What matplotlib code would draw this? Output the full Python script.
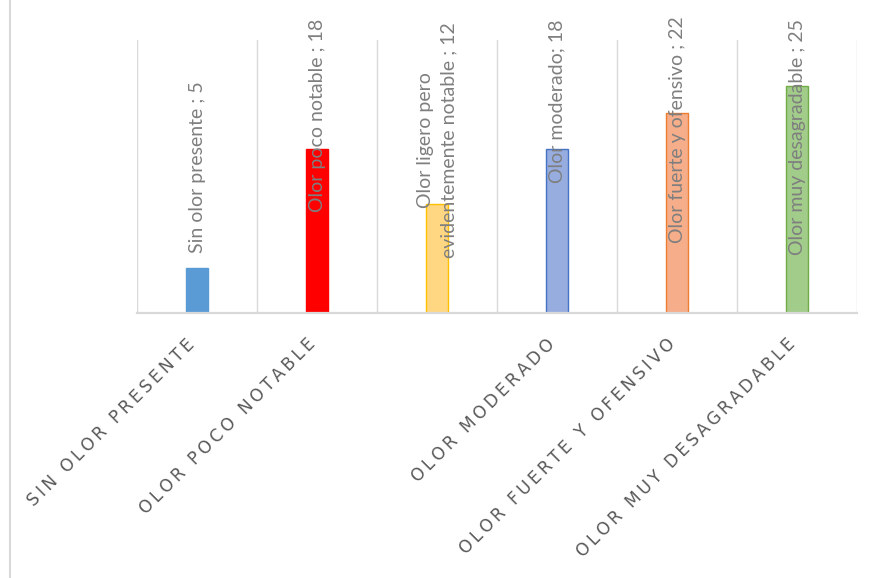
import matplotlib
matplotlib.use("Agg")
import matplotlib.pyplot as plt
from matplotlib.lines import Line2D
from matplotlib.transforms import ScaledTranslation

# Odour intensity survey: count of responses per category
categories = [
    "Sin olor presente",
    "Olor poco notable",
    "Olor ligero pero evidentemente notable",
    "Olor moderado",
    "Olor fuerte y ofensivo",
    "Olor muy desagradable",
]
values = [5, 18, 12, 18, 22, 25]
data_labels = [
    "Sin olor presente ; 5",
    "Olor poco notable ; 18",
    "Olor ligero pero\nevidentemente notable ; 12",
    "Olor moderado; 18",
    "Olor fuerte y ofensivo ; 22",
    "Olor muy desagradable ; 25",
]
# axis labels shown under each bar (the long third one is not shown)
tick_labels = [
    "SIN OLOR PRESENTE",
    "OLOR POCO NOTABLE",
    "",
    "OLOR MODERADO",
    "OLOR FUERTE Y OFENSIVO",
    "OLOR MUY DESAGRADABLE",
]

face_colors = ["#5b9bd5", "#ff0000", "#ffd782", "#97ade0", "#f6ae8a", "#a2cc8a"]
edge_colors = ["#5b9bd5", "#ff0000", "#ffc000", "#4472c4", "#ed7d31", "#70ad47"]
# where the bottom of each rotated data label sits (in value units)
label_base = [6.6, 11.1, 6.0, 14.3, 7.7, 6.4]

W, H = 875, 578
fig = plt.figure(figsize=(W / 100, H / 100), dpi=100)
ax = fig.add_axes([137 / W, 1 - 313 / H, 720 / W, 273 / H])

x = list(range(len(categories)))
ax.bar(x, values, width=0.185, color=face_colors, edgecolor=edge_colors,
       linewidth=1.0, zorder=3)

ax.set_xlim(-0.5, len(categories) - 0.5)
ax.set_ylim(0, 30)

# vertical separators between categories
for b in [i - 0.5 for i in range(len(categories) + 1)]:
    ax.axvline(b, color="#d9d9d9", linewidth=1.0, zorder=1)
ax.axhline(0, color="#d9d9d9", linewidth=1.6, zorder=4, clip_on=False)

for s in ax.spines.values():
    s.set_visible(False)
ax.set_yticks([])
ax.tick_params(axis="x", length=0, pad=16)


def spaced(t):
    return "\u2009".join(t)


ax.set_xticks(x)
ax.set_xticklabels([spaced(t) for t in tick_labels], rotation=45, ha="right",
                   rotation_mode="anchor", fontsize=12.2, color="#595959",
                   family=["DejaVu Sans"])
shift = ScaledTranslation(-11 / 100, 0, fig.dpi_scale_trans)
for lab in ax.get_xticklabels():
    lab.set_transform(lab.get_transform() + shift)

for xi, txt, yb in zip(x, data_labels, label_base):
    ax.text(xi, yb, txt, rotation=90, ha="center", va="bottom",
            multialignment="center", fontsize=14, color="#7f7f7f",
            family=["Lato", "DejaVu Sans"], clip_on=False, zorder=5,
            linespacing=1.45)

# outer chart frame edge on the left
fig.add_artist(Line2D([10 / W, 10 / W], [0, 1], transform=fig.transFigure,
                      color="#d9d9d9", linewidth=1.5))

fig.savefig("out.png", dpi=100)
